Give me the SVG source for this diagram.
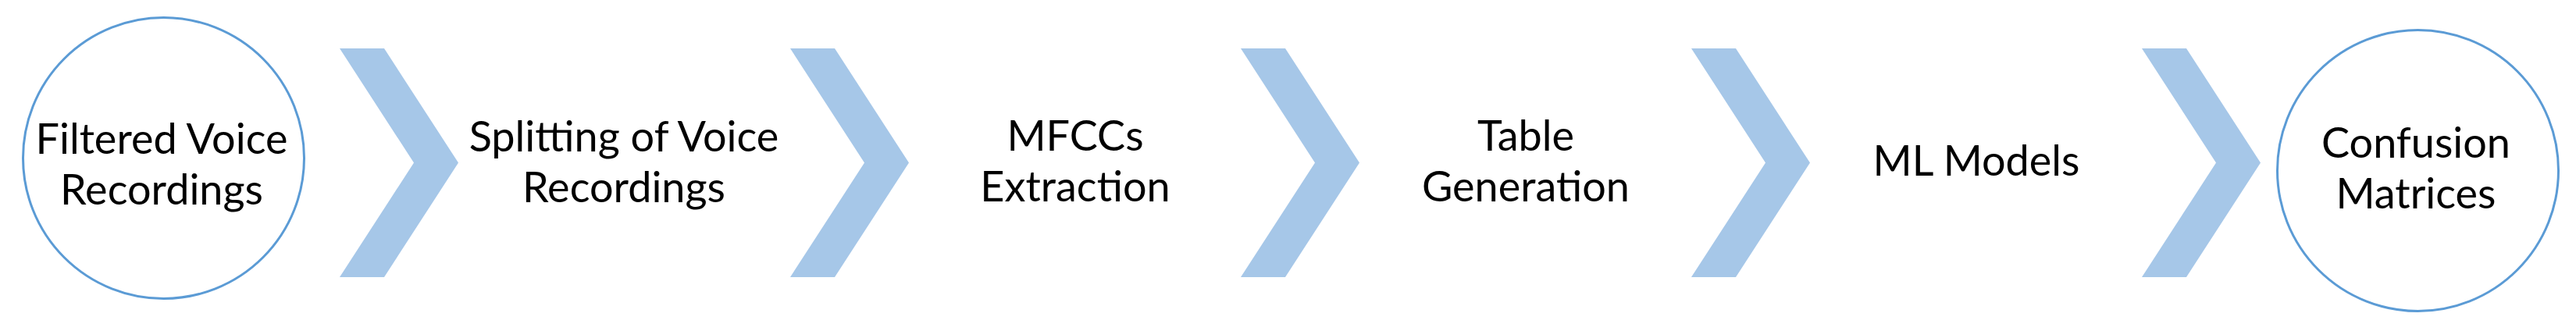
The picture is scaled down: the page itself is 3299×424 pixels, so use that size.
<svg xmlns="http://www.w3.org/2000/svg" width="3299" height="424" viewBox="0 0 3299 424">
<style>
.lbl{font-family:Lato,"Liberation Sans",sans-serif;font-size:54px;fill:#000;text-anchor:middle}
.ring{fill:#fff;stroke:#5B9BD5;stroke-width:3}
.chev{fill:#A6C7E8}
</style>
<defs>
<polygon id="chev" points="0,0 57,0 152,146.5 57,293 0,293 95,146.5"/>
</defs>
<rect width="3299" height="424" fill="#fff"/>
<g id="connectors">
<use href="#chev" class="chev" x="435" y="62"/>
<use href="#chev" class="chev" x="1012" y="62"/>
<use href="#chev" class="chev" x="1589" y="62"/>
<use href="#chev" class="chev" x="2166" y="62"/>
<use href="#chev" class="chev" x="2743" y="62"/>
</g>
<g id="node-filtered">
<circle class="ring" cx="209.5" cy="202.5" r="180"/>
<text class="lbl" x="207" y="197">Filtered Voice</text>
<text class="lbl" x="207" y="262">Recordings</text>
</g>
<g id="node-splitting">
<text class="lbl" x="799" y="194">Splitting of Voice</text>
<text class="lbl" x="799" y="259">Recordings</text>
</g>
<g id="node-mfcc">
<text class="lbl" x="1377" y="193">MFCCs</text>
<text class="lbl" x="1377" y="258">Extraction</text>
</g>
<g id="node-table">
<text class="lbl" x="1954" y="193">Table</text>
<text class="lbl" x="1954" y="258">Generation</text>
</g>
<g id="node-ml">
<text class="lbl" x="2531" y="225">ML Models</text>
</g>
<g id="node-confusion">
<circle class="ring" cx="3096.5" cy="218.5" r="180"/>
<text class="lbl" x="3094" y="202">Confusion</text>
<text class="lbl" x="3094" y="267">Matrices</text>
</g>
</svg>
